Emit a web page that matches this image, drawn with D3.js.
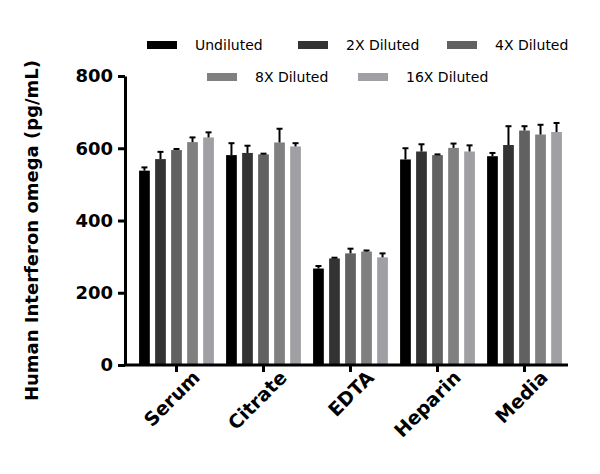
<!DOCTYPE html>
<html><head><meta charset="utf-8">
<script src="https://cdn.jsdelivr.net/npm/d3@7"></script>
<style>body{margin:0;background:#fff}text{font-family:"DejaVu Sans",sans-serif}</style>
</head><body><svg id="c" width="600" height="474"></svg>
<script>
const categories = ['Serum', 'Citrate', 'EDTA', 'Heparin', 'Media']
const series = ['Undiluted', '2X Diluted', '4X Diluted', '8X Diluted', '16X Diluted']
const colors = ['#000000', '#333333', '#616161', '#808080', '#a0a0a4']
// values[series][category]
const values = [
  [538, 581, 267, 569, 578],
  [570, 587, 295, 591, 609],
  [595, 583, 309, 581, 649],
  [617, 616, 314, 601, 638],
  [630, 605, 298, 591, 645]
]
const errors = [
  [9, 33, 7, 31, 9],
  [20, 20, 2, 20, 52],
  [3, 2, 13, 2, 12],
  [13, 38, 3, 12, 27],
  [14, 9, 11, 17, 25]
]
const yTicks = [0, 200, 400, 600, 800]

const svg = d3.select('#c')
const m = { left: 125, right: 568, top: 76, bottom: 365 }
const y = d3.scaleLinear().domain([0, 800]).range([m.bottom, m.top])
const x0 = d3.scaleBand().domain(categories).range([m.left + 8, m.right]).paddingInner(0.14).paddingOuter(0.07)
const x1 = d3.scaleBand().domain(series).range([0, x0.bandwidth()]).paddingInner(0.33)

const g = svg.append('g')
series.forEach((s, si) => {
  categories.forEach((c, ci) => {
    const v = values[si][ci], e = errors[si][ci]
    const bx = x0(c) + x1(s), bw = x1.bandwidth()
    g.append('rect').attr('x', bx).attr('y', y(v)).attr('width', bw)
      .attr('height', y(0) - y(v)).attr('fill', colors[si])
    const cx = bx + bw / 2
    g.append('line').attr('x1', cx).attr('x2', cx).attr('y1', y(v)).attr('y2', y(v + e))
      .attr('stroke', '#000').attr('stroke-width', 2)
    g.append('line').attr('x1', cx - 3).attr('x2', cx + 3).attr('y1', y(v + e)).attr('y2', y(v + e))
      .attr('stroke', '#000').attr('stroke-width', 2)
  })
})

// axes
const ya = svg.append('g').attr('transform', `translate(${m.left},0)`)
  .call(d3.axisLeft(y).tickValues(yTicks).tickSize(7).tickSizeOuter(0))
ya.select('.domain').attr('stroke-width', 3)
ya.selectAll('.tick line').attr('stroke-width', 3)
ya.selectAll('text').attr('font-size', 18).attr('font-weight', 'bold').attr('dx', -2)

const xa = svg.append('g').attr('transform', `translate(0,${m.bottom})`)
  .call(d3.axisBottom(x0).tickSize(7).tickSizeOuter(0))
xa.select('.domain').attr('d', `M${m.left},0H${m.right}`).attr('stroke-width', 3)
xa.selectAll('.tick line').attr('stroke-width', 3)
xa.selectAll('text').attr('font-size', 19).attr('font-weight', 'bold')
  .attr('text-anchor', 'end').attr('transform', 'rotate(-45)').attr('dx', '0.4em').attr('dy', '0.9em')

svg.append('text').attr('transform', `translate(38,${(m.top + m.bottom) / 2 + 10}) rotate(-90)`)
  .attr('text-anchor', 'middle').attr('font-size', 18).attr('font-weight', 'bold')
  .text('Human Interferon omega (pg/mL)')

// legend
const legendPos = [[147, 45], [298, 45], [447, 45], [207, 77], [358, 77]]
series.forEach((s, i) => {
  const [lx, ly] = legendPos[i]
  svg.append('rect').attr('x', lx).attr('y', ly - 4).attr('width', 30).attr('height', 8).attr('fill', colors[i])
  svg.append('text').attr('x', lx + 48).attr('y', ly + 5).attr('font-size', 14).text(s)
})
</script></body></html>
